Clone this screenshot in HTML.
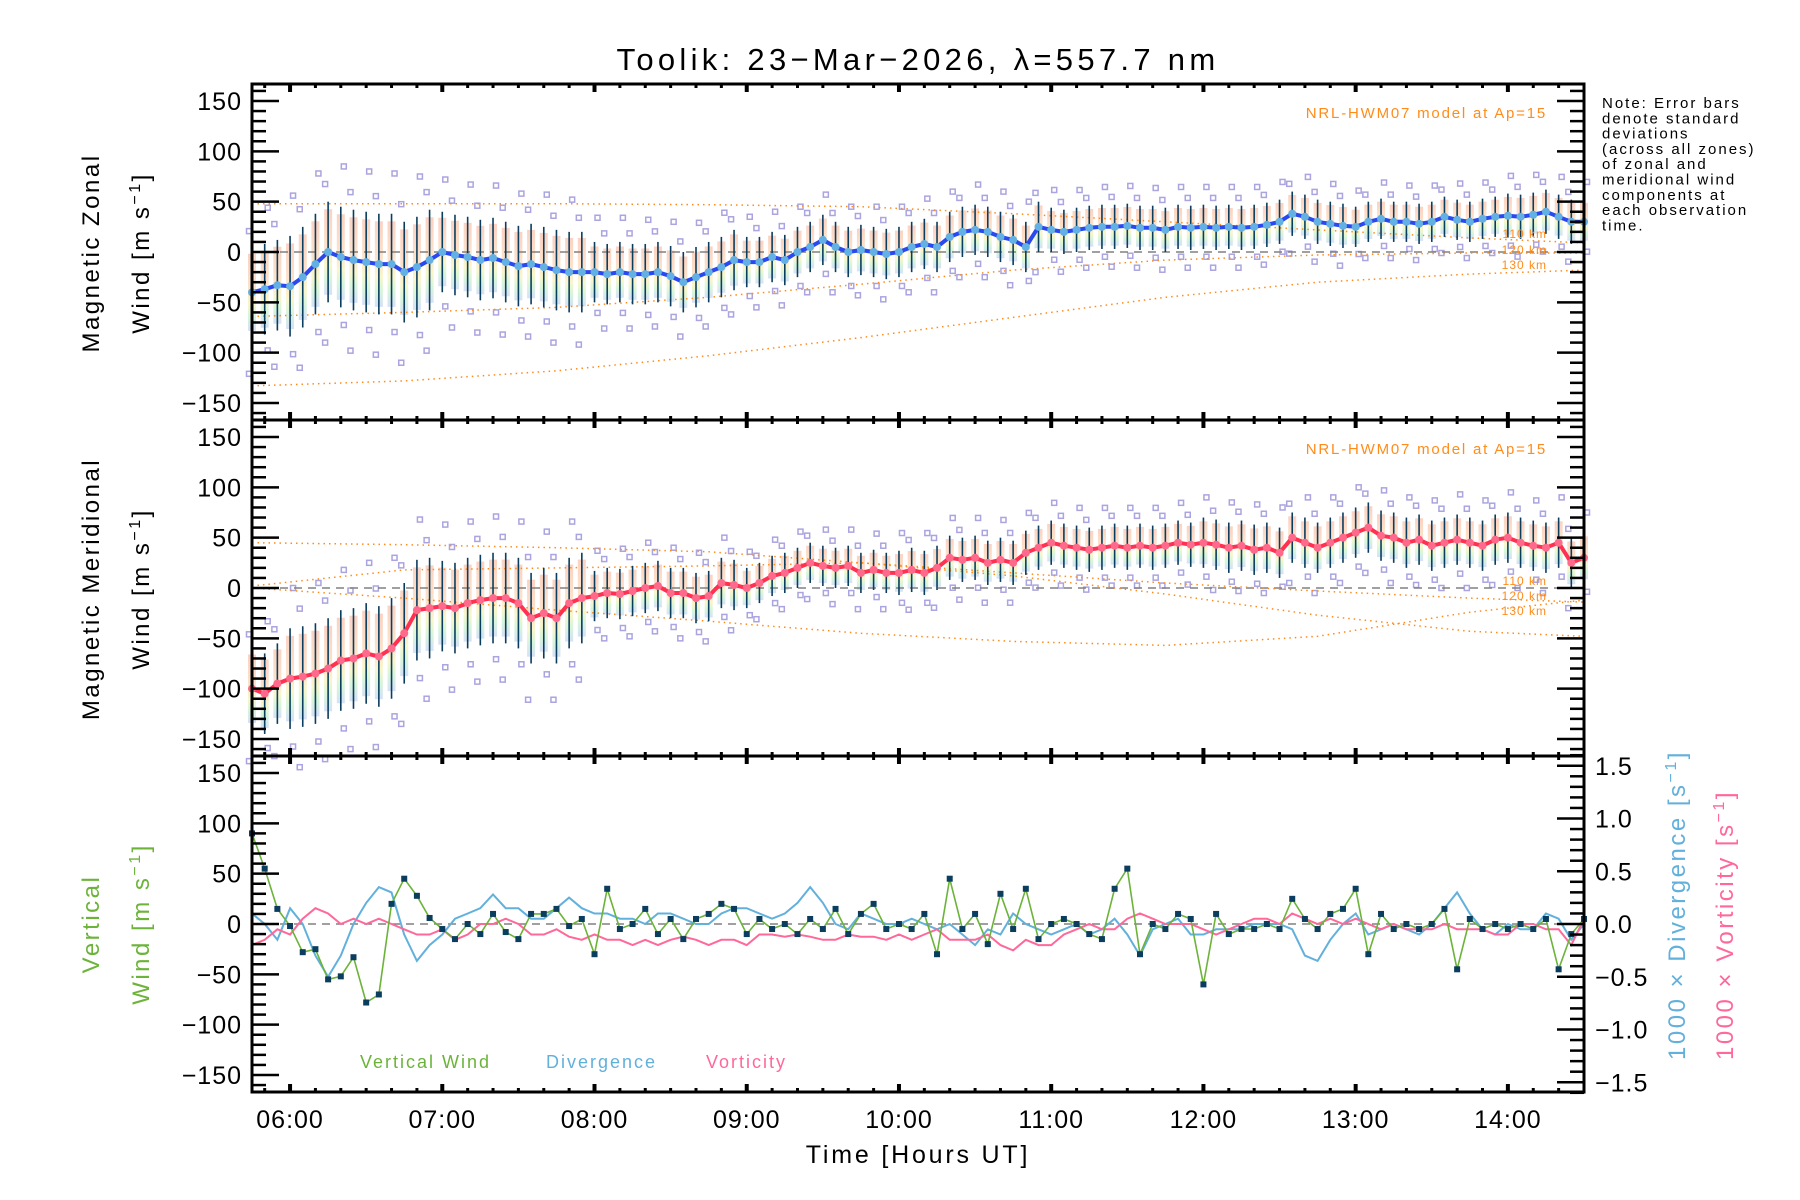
<!DOCTYPE html>
<html><head><meta charset="utf-8"><title>Toolik winds</title>
<style>
html,body{margin:0;padding:0;background:#fff;}
svg{display:block;font-family:"Liberation Sans",sans-serif;}
</style></head>
<body>
<svg id="chart" width="1800" height="1200" viewBox="0 0 1800 1200" xmlns="http://www.w3.org/2000/svg">
<rect x="0" y="0" width="1800" height="1200" fill="#fff"/>
<text x="918" y="70" font-size="31" text-anchor="middle" letter-spacing="4.3">Toolik: 23−Mar−2026, λ=557.7 nm</text>
<g id="layer-bg"></g><g id="layer-model"></g><g id="layer-data"></g><g id="layer-axes"></g>
<text font-size="15" letter-spacing="2" x="1602" y="108">
<tspan x="1602" dy="0">Note: Error bars</tspan><tspan x="1602" dy="15.3">denote standard</tspan><tspan x="1602" dy="15.3">deviations</tspan><tspan x="1602" dy="15.3">(across all zones)</tspan><tspan x="1602" dy="15.3">of zonal and</tspan><tspan x="1602" dy="15.3">meridional wind</tspan><tspan x="1602" dy="15.3">components at</tspan><tspan x="1602" dy="15.3">each observation</tspan><tspan x="1602" dy="15.3">time.</tspan></text>
<text x="1547" y="118" font-size="15" letter-spacing="1.8" fill="#ff8c1a" text-anchor="end">NRL-HWM07 model at Ap=15</text>
<text x="1547" y="454" font-size="15" letter-spacing="1.8" fill="#ff8c1a" text-anchor="end">NRL-HWM07 model at Ap=15</text>
<g font-size="12" fill="#ff8c1a" text-anchor="end" letter-spacing="1">
<text x="1547" y="238">110 km</text>
<text x="1547" y="254">120 km</text>
<text x="1547" y="269">130 km</text>
<text x="1547" y="585">110 km</text>
<text x="1547" y="600">120 km</text>
<text x="1547" y="615">130 km</text>
</g>
<g font-size="24" text-anchor="middle" letter-spacing="2.5">
<text transform="translate(99,253) rotate(-90)">Magnetic Zonal</text>
<text transform="translate(149,253) rotate(-90)">Wind [m s<tspan dy="-9" font-size="16">−1</tspan><tspan dy="9">]</tspan></text>
<text transform="translate(99,589) rotate(-90)">Magnetic Meridional</text>
<text transform="translate(149,589) rotate(-90)">Wind [m s<tspan dy="-9" font-size="16">−1</tspan><tspan dy="9">]</tspan></text>
<text fill="#6cb33a" transform="translate(99,924) rotate(-90)">Vertical</text>
<text fill="#6cb33a" transform="translate(149,924) rotate(-90)">Wind [m s<tspan dy="-9" font-size="16">−1</tspan><tspan dy="9">]</tspan></text>
<text fill="#62b0dc" transform="translate(1685,905) rotate(-90)">1000 × Divergence [s<tspan dy="-9" font-size="16">−1</tspan><tspan dy="9">]</tspan></text>
<text fill="#ff6898" transform="translate(1733,925) rotate(-90)">1000 × Vorticity [s<tspan dy="-9" font-size="16">−1</tspan><tspan dy="9">]</tspan></text>
</g>
<text x="918" y="1163" font-size="25" text-anchor="middle" letter-spacing="2.8">Time [Hours UT]</text>
<g font-size="18" letter-spacing="2">
<text x="360" y="1068" fill="#6cb33a">Vertical Wind</text>
<text x="546" y="1068" fill="#62b0dc">Divergence</text>
<text x="706" y="1068" fill="#ff6898">Vorticity</text>
</g>
</svg>
<script>
// ---- data (5-min samples starting 05:45 UT) ----
const sampleStepMin = 5;
const zonalMean = [-40,-37,-33,
-34,-25,-12,0,-5,-8,-10,-12,-12,-20,-15,-8,
0,-3,-5,-8,-6,-10,-14,-12,-15,-18,-20,-20,
-20,-22,-20,-22,-22,-20,-24,-30,-25,-20,-15,-8,
-10,-10,-5,-8,0,5,12,5,0,2,0,-2,
0,5,8,5,15,20,22,20,15,12,5,25,
22,20,22,24,25,25,26,24,24,22,25,24,
25,24,25,24,25,27,30,38,35,30,28,26,
25,30,33,30,30,28,30,35,32,30,33,35,
36,35,37,40,35,30,30];
const meridMean = [-100,-105,-95,
-90,-88,-85,-80,-72,-70,-65,-68,-60,-45,-22,-20,
-18,-20,-15,-12,-10,-10,-15,-30,-25,-30,-15,-10,
-8,-5,-6,-3,0,2,-5,-5,-10,-8,5,3,
0,5,12,15,20,25,22,20,22,15,18,15,
15,18,15,20,30,28,30,25,28,25,35,40,
45,42,40,38,40,42,40,42,40,42,45,43,
45,43,40,42,38,40,35,50,45,40,45,50,
55,60,52,50,45,48,42,45,48,45,42,48,
50,45,42,40,45,25,30];
// std per clock hour (05h..14h)
const zonalStdHourly = [45,50,40,30,25,25,22,22,20,22];
const meridStdHourly = [40,50,45,25,20,22,22,25,25,25];
const vertWind = [90,55,15,
-2,-28,-25,-55,-52,-33,-78,-70,20,45,28,6,
-5,-15,0,-10,10,-8,-15,10,10,15,-2,5,
-30,35,-5,0,15,-10,5,-15,5,10,20,15,
-10,5,-5,0,-10,5,-5,15,-10,10,20,-5,
0,-5,10,-30,45,-5,10,-20,30,-5,35,-15,
0,5,0,-10,-15,35,55,-30,0,-5,10,5,
-60,10,-10,-5,-5,0,-5,25,5,-5,10,15,
35,-30,10,-5,0,-5,0,15,-45,5,-5,0,
-5,0,-5,5,-45,-10,5];
const divergence = [0.1,0.0,-0.15,
0.15,0.0,-0.3,-0.5,-0.3,0.0,0.2,0.35,0.3,-0.1,-0.35,-0.2,
-0.1,0.05,0.1,0.15,0.28,0.15,0.15,0.05,0.05,0.15,0.25,0.15,
0.1,0.1,0.05,0.05,0.0,0.1,0.1,0.05,0.0,0.0,0.1,0.15,
0.15,0.1,0.05,0.1,0.2,0.35,0.2,0.0,-0.05,0.1,0.05,0.0,
0.0,0.05,0.0,-0.05,0.0,-0.1,-0.2,-0.05,-0.1,0.1,0.0,-0.05,
-0.1,-0.05,0.0,-0.1,-0.05,0.05,-0.1,-0.3,-0.05,0.0,0.05,-0.1,
-0.1,-0.05,-0.05,-0.05,0.0,0.0,0.0,-0.05,-0.3,-0.35,-0.15,0.0,
0.1,-0.1,-0.05,0.0,-0.05,-0.1,0.0,0.15,0.3,0.1,-0.05,-0.1,
0.0,-0.05,-0.05,0.1,0.05,-0.15,0.0];
const vorticity = [-0.2,-0.15,-0.05,
-0.1,0.05,0.15,0.1,0.0,0.05,0.0,0.05,0.0,-0.05,-0.1,-0.1,
-0.05,-0.15,-0.1,0.0,0.0,0.05,0.0,-0.1,-0.1,-0.05,-0.12,-0.15,
-0.1,-0.15,-0.15,-0.2,-0.15,-0.2,-0.15,-0.12,-0.15,-0.2,-0.15,-0.15,
-0.2,-0.1,-0.1,-0.12,-0.1,-0.12,-0.15,-0.15,-0.1,-0.12,-0.12,-0.15,
-0.1,-0.15,-0.1,-0.05,-0.15,-0.15,-0.15,-0.1,-0.2,-0.25,-0.15,-0.2,
-0.2,-0.1,-0.05,0.0,-0.05,-0.05,0.05,0.1,0.05,0.0,0.0,0.0,
-0.05,-0.1,-0.05,0.0,0.05,0.05,0.0,0.1,0.05,0.0,0.05,0.0,
0.05,0.0,-0.05,0.0,-0.05,-0.05,-0.05,0.0,-0.05,-0.05,-0.05,-0.1,
-0.1,0.0,0.0,-0.05,-0.05,-0.2,0.05];
const scatterFactors = [-1.8,-1.35,1.35,1.8];
// HWM07 model curves, minutes after 05:45
const modelTimes = [0,60,120,180,240,300,360,420,480,525];
const zonal110 = [48,48,48,47,45,38,30,22,14,9];
const zonal120 = [-64,-60,-55,-45,-32,-18,-8,-3,-1,-1];
const zonal130 = [-133,-128,-118,-103,-85,-65,-45,-30,-22,-18];
const merid110 = [45,43,40,36,25,12,-6,-27,-43,-48];
const merid120 = [2,18,20,22,25,15,5,-3,-10,-14];
const merid130 = [0,-10,-22,-33,-45,-53,-57,-48,-24,-12];
const xTickLabels = ["06:00","07:00","08:00","09:00","10:00","11:00","12:00","13:00","14:00"];
const yTickValues = [150,100,50,0,-50,-100,-150];
const rightTickValues = [1.5,1.0,0.5,0.0,-0.5,-1.0,-1.5];

// ---- geometry ----
const NS="http://www.w3.org/2000/svg";
const X0=252, X1=1584, TOTAL_MIN=525;
const panelTops=[84,420,756], PH=336;
const pxPerUnit=151/150, pxPerRight=105.5;
function xS(min){return X0+min*(X1-X0)/TOTAL_MIN;}
function yS(p,v){return panelTops[p]+PH/2-v*pxPerUnit;}
function yR(v){return panelTops[2]+PH/2-v*pxPerRight;}
function mk(tag,attrs,parent){const e=document.createElementNS(NS,tag);for(const k in attrs)e.setAttribute(k,attrs[k]);parent.appendChild(e);return e;}
const gBg=document.getElementById('layer-bg'),gModel=document.getElementById('layer-model'),gData=document.getElementById('layer-data'),gAx=document.getElementById('layer-axes');
const fmt=v=>(v<0?"−":"")+Math.abs(v);
function hourIdx(i){return Math.floor((45+i*sampleStepMin)/60);}

// gradient
const defs=mk('defs',{},document.getElementById('chart'));
const lg=mk('linearGradient',{id:'rainbow',x1:0,y1:0,x2:0,y2:1},defs);
[['0','#f8b49a'],['0.45','#fad0a8'],['0.65','#f4f0a8'],['0.8','#bdf0c0'],['1','#b8ccf4']].forEach(s=>mk('stop',{offset:s[0],'stop-color':s[1]},lg));

// zero dashed lines
for(let p=0;p<3;p++){
  const z=mk('line',{x1:X0,x2:X1,y1:yS(p,0),y2:yS(p,0),stroke:'#808080','stroke-width':1.5,'stroke-dasharray':'8,6'},gModel);
  
  
}

// model curves
function modelLine(p,vals,name){
  const pts=vals.map((v,i)=>xS(modelTimes[i]).toFixed(1)+','+yS(p,v).toFixed(1)).join(' ');
  const e=mk('polyline',{points:pts,fill:'none',stroke:'#ff8c1a','stroke-width':1.5,'stroke-dasharray':'1.5,4'},gModel);
  
  
}
modelLine(0,zonal110,'zonal-model-110km');modelLine(0,zonal120,'zonal-model-120km');modelLine(0,zonal130,'zonal-model-130km');
modelLine(1,merid110,'meridional-model-110km');modelLine(1,merid120,'meridional-model-120km');modelLine(1,merid130,'meridional-model-130km');

// wind panels
function windPanel(p,mean,stdH,lineCol,dotCol,name){
  mean.forEach((m,i)=>{
    const s=stdH[hourIdx(i)], x=xS(i*sampleStepMin);
    const r=mk('rect',{x:x-4,y:yS(p,m+s*0.85),width:8,height:1.7*s*pxPerUnit,fill:'url(#rainbow)',opacity:0.6},gBg);
    
    
    scatterFactors.forEach((f,k)=>{
      if((i+k)%2!==0)return;
      const q=mk('rect',{x:x-2.5+(k%2?3:-3),y:yS(p,m+f*s)-2.5,width:5,height:5,fill:'none',stroke:'#aaa4e0','stroke-width':1.5},gBg);
      
      
    });
    const eb=mk('line',{x1:x,x2:x,y1:yS(p,m+s),y2:yS(p,m-s),stroke:'#0b3d5e','stroke-width':1.6},gData);
    
    
  });
  const pts=mean.map((m,i)=>xS(i*sampleStepMin).toFixed(1)+','+yS(p,m).toFixed(1)).join(' ');
  const l=mk('polyline',{points:pts,fill:'none',stroke:lineCol,'stroke-width':4,'stroke-linejoin':'round'},gData);
  
  
  mean.forEach((m,i)=>{
    const c=mk('circle',{cx:xS(i*sampleStepMin),cy:yS(p,m),r:4,fill:dotCol},gData);
    
    
  });
}
windPanel(0,zonalMean,zonalStdHourly,'#2a48f0','#62b0e4','zonal');
windPanel(1,meridMean,meridStdHourly,'#ff3050','#ff6a8c','meridional');

// panel 3 lines
function line3(vals,fn,col,w,name){
  const pts=vals.map((v,i)=>xS(i*sampleStepMin).toFixed(1)+','+fn(v).toFixed(1)).join(' ');
  const e=mk('polyline',{points:pts,fill:'none',stroke:col,'stroke-width':w},gData);
  
  
}
line3(divergence,yR,'#62b0dc',2,'divergence-line');
line3(vorticity,yR,'#ff6898',2,'vorticity-line');
line3(vertWind,v=>yS(2,v),'#6cb33a',1.6,'vertical-wind-line');
vertWind.forEach((v,i)=>{
  const q=mk('rect',{x:xS(i*sampleStepMin)-3,y:yS(2,v)-3,width:6,height:6,fill:'#0b3d5e'},gData);
  
  
});

// axes
for(let p=0;p<3;p++){
  const t=panelTops[p];
  const fr=mk('rect',{x:X0,y:t,width:X1-X0,height:PH,fill:'none',stroke:'#000','stroke-width':3},gAx);
  
  
  for(let m=-160;m<=160;m+=10){
    const y=yS(p,m), major=(m%50===0), L=major?27:14;
    mk('line',{x1:X0,x2:X0+L,y1:y,y2:y,stroke:'#000','stroke-width':2.5},gAx);
    if(p<2) mk('line',{x1:X1,x2:X1-L,y1:y,y2:y,stroke:'#000','stroke-width':2.5},gAx);
  }
  for(let mn=5;mn<TOTAL_MIN;mn+=10){
    const x=xS(mn), major=((mn+45)%60===0), L=major?8:4;
    mk('line',{x1:x,x2:x,y1:t,y2:t+L,stroke:'#000','stroke-width':major?4:3},gAx);
    mk('line',{x1:x,x2:x,y1:t+PH,y2:t+PH-L,stroke:'#000','stroke-width':major?4:3},gAx);
  }
  yTickValues.forEach(v=>{
    const tx=mk('text',{x:242,y:yS(p,v)+9,'font-size':25,'text-anchor':'end','letter-spacing':1},gAx);
    tx.textContent=fmt(v);
    
    
  });
}
for(let k=-16;k<=16;k++){
  const v=k/10, major=(k%5===0), L=major?27:14;
  mk('line',{x1:X1,x2:X1-L,y1:yR(v),y2:yR(v),stroke:'#000','stroke-width':2.5},gAx);
}
rightTickValues.forEach(v=>{
  const tx=mk('text',{x:1595,y:yR(v)+9,'font-size':25,'letter-spacing':1},gAx);
  tx.textContent=(v<0?"−":"")+Math.abs(v).toFixed(1);
  
  
});
xTickLabels.forEach((lab,i)=>{
  const tx=mk('text',{x:xS(15+i*60),y:1128,'font-size':25,'text-anchor':'middle','letter-spacing':1},gAx);
  tx.textContent=lab;
  
  
});
</script>
</body></html>
